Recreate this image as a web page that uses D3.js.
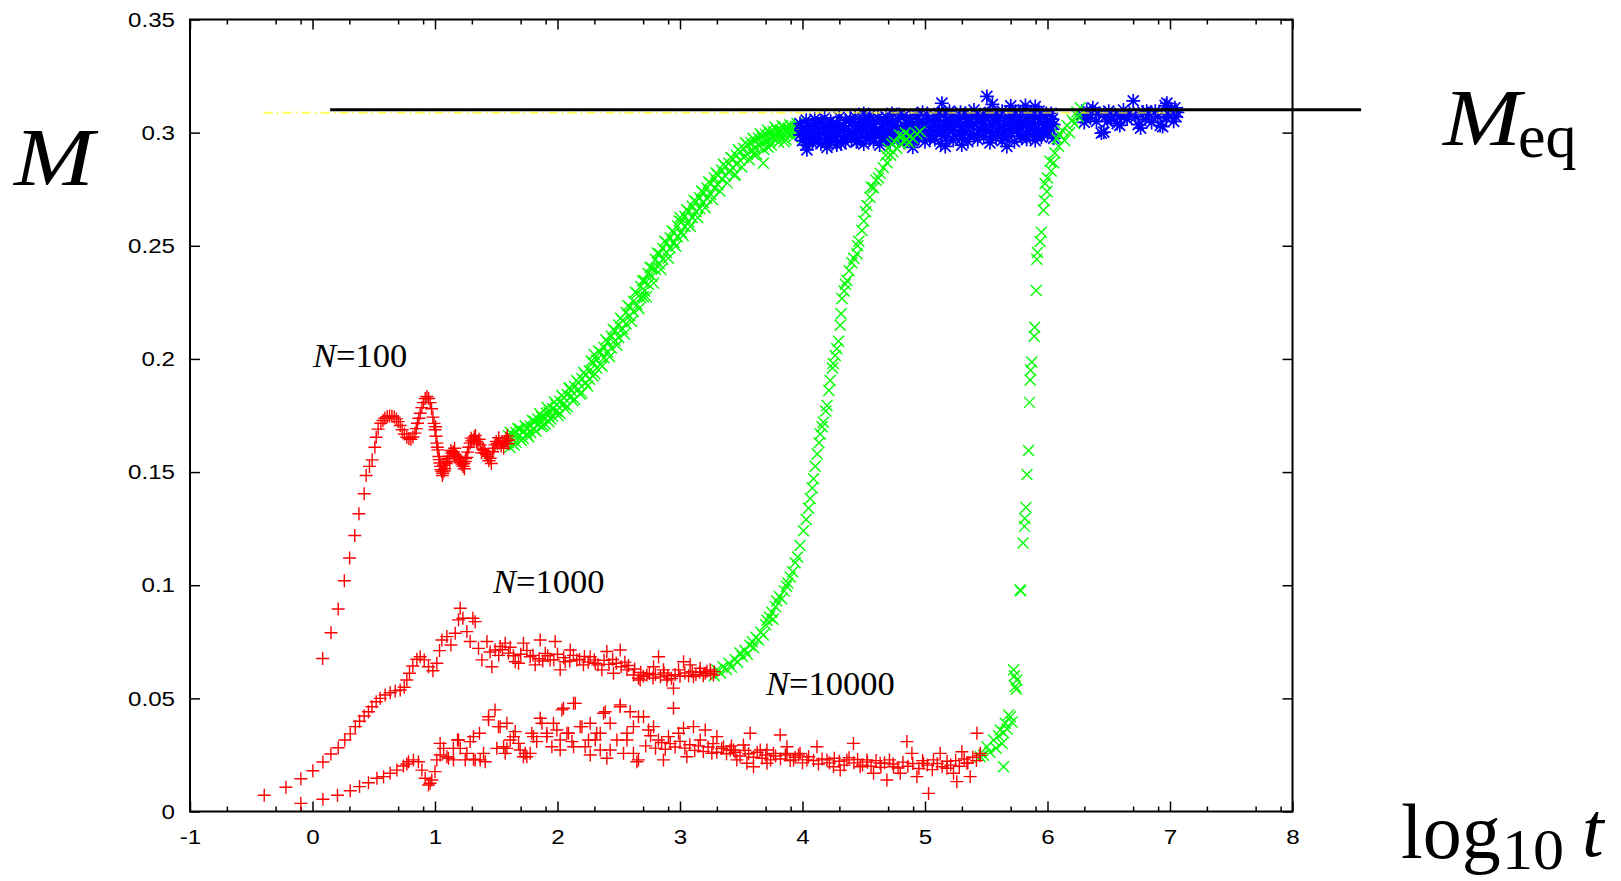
<!DOCTYPE html>
<html>
<head>
<meta charset="utf-8">
<script src="https://cdn.jsdelivr.net/npm/d3@7"></script>
<style>
  body { margin: 0; background: #fff; }
  svg { display: block; background: #fff; }
  .tick text { font-family: "Liberation Sans", Arial, sans-serif; font-size: 21px; fill: #000; }
  .tick line { stroke: #000; stroke-width: 1.5; }
  .label { font-family: "Liberation Serif", "Times New Roman", serif; fill: #000; }
</style>
</head>
<body>
<svg id="chart" width="1621" height="881"></svg>
<script>
const xTicks = [-1, 0, 1, 2, 3, 4, 5, 6, 7, 8];
const xMinorOffsets = [0.301, 0.699, 0.903];
const yTicks = [0, 0.05, 0.1, 0.15, 0.2, 0.25, 0.3, 0.35];
const yTickLabels = ["0", "0.05", "0.1", "0.15", "0.2", "0.25", "0.3", "0.35"];

const meqValue = 0.3101;
const meqRange = [0.144, 8.56];
const guideValue = 0.3088;
const guideRange = [-0.4, 7.05];

// N=100, early regime (red +)
const n100Red = [
  [0.083,0.0676],[0.151,0.079],[0.21,0.0895],[0.26,0.102],[0.303,0.112],[0.345,0.122],[0.379,0.1316],
  [0.422,0.1404],[0.438,0.1485],[0.465,0.1525],[0.487,0.1554],[0.509,0.161],[0.52,0.1654],[0.536,0.169],
  [0.558,0.1716],[0.575,0.1728],[0.59,0.1738],[0.61,0.1745],[0.629,0.1748],[0.648,0.1747],[0.667,0.1743],
  [0.685,0.1735],[0.70,0.1723],[0.716,0.1706],[0.732,0.1687],[0.75,0.1668],[0.77,0.1654],[0.787,0.1648],
  [0.803,0.1645],[0.82,0.1655],[0.836,0.1672],[0.847,0.1692],[0.857,0.1716],[0.868,0.1738],[0.879,0.176],
  [0.893,0.1785],[0.906,0.1807],[0.92,0.1825],[0.934,0.1834],[0.948,0.1825],[0.961,0.1807],[0.972,0.178],
  [0.983,0.1743],[0.992,0.1715],[1.0,0.1687],[1.005,0.1700],[1.008,0.1658],[1.015,0.1628],[1.02,0.1610],
  [1.024,0.1598],[1.032,0.1569],[1.035,0.1555],[1.04,0.154],[1.045,0.1525],[1.048,0.151],[1.056,0.1502],
  [1.06,0.1485],[1.064,0.1495],[1.07,0.153],[1.075,0.1505],[1.08,0.1515],[1.09,0.1538],[1.097,0.1547],
  [1.105,0.1560],[1.118,0.157],[1.12,0.1545],[1.13,0.1595],[1.138,0.1584],[1.15,0.1590],[1.158,0.158],
  [1.16,0.1605],[1.17,0.1575],[1.179,0.1569],[1.19,0.1560],[1.2,0.155],[1.21,0.1540],[1.22,0.1532],
  [1.23,0.1525],[1.234,0.1538],[1.24,0.1515],[1.246,0.1547],[1.25,0.1560],[1.26,0.1565],[1.266,0.1588],
  [1.275,0.1610],[1.287,0.1628],[1.295,0.1650],[1.3,0.1638],[1.314,0.1642],[1.32,0.1655],[1.33,0.1662],
  [1.34,0.1635],[1.35,0.1628],[1.36,0.1645],[1.369,0.162],[1.38,0.1585],[1.39,0.1602],[1.4,0.1595],
  [1.41,0.1584],[1.42,0.1578],[1.43,0.157],[1.44,0.1550],[1.45,0.1561],[1.46,0.1538],[1.47,0.159],
  [1.48,0.1605],[1.49,0.162],[1.5,0.1635],[1.51,0.1625],[1.52,0.1652],[1.53,0.1628],[1.54,0.1615],
  [1.55,0.1632],[1.56,0.1605],[1.57,0.1635],[1.58,0.1650],[1.585,0.1638],[1.59,0.166],[1.595,0.1625],[1.60,0.1642]
];

// N=100, rise (green x)
const n100Green = [
  [1.60,0.1630],[1.60,0.1660],[1.61,0.1610],[1.615,0.1675],[1.63,0.1645],[1.63,0.1668],[1.645,0.1620],
  [1.66,0.1632],[1.66,0.1675],[1.675,0.1692],[1.69,0.1662],[1.69,0.1690],[1.705,0.1640],[1.72,0.1648],
  [1.72,0.1680],[1.735,0.1705],[1.75,0.1695],[1.75,0.1668],[1.765,0.1655],[1.78,0.1702],[1.78,0.1675],
  [1.795,0.1728],[1.81,0.1690],[1.81,0.1725],[1.825,0.1680],[1.84,0.1712],[1.84,0.1735],[1.855,0.1758],
  [1.87,0.1700],[1.87,0.1745],[1.885,0.1705],[1.90,0.1738],[1.90,0.1712],[1.91,0.1760],[1.915,0.1785],
  [1.93,0.1722],[1.93,0.1765],[1.945,0.1735],[1.96,0.1780],[1.96,0.1748],[1.975,0.1810],[1.99,0.1770],
  [1.99,0.1798],[2.005,0.1750],[2.02,0.1760],[2.02,0.1812],[2.035,0.1838],[2.05,0.1800],[2.05,0.1830],
  [2.065,0.1780],[2.08,0.1790],[2.08,0.1842],[2.095,0.1870],[2.10,0.1872],[2.11,0.1835],[2.11,0.1860],
  [2.125,0.1815],[2.14,0.1822],[2.14,0.1878],[2.155,0.1905],[2.17,0.1865],[2.17,0.1895],[2.185,0.1845],
  [2.20,0.1850],[2.20,0.1912],[2.215,0.1940],[2.23,0.1895],[2.23,0.1930],[2.245,0.1880],[2.26,0.1910],
  [2.26,0.1948],[2.275,0.1990],[2.29,0.1925],[2.29,0.1985],[2.30,0.2020],[2.305,0.1935],[2.32,0.1960],
  [2.32,0.1995],[2.335,0.2035],[2.35,0.1975],[2.35,0.2030],[2.365,0.1968],[2.38,0.2005],[2.38,0.2050],
  [2.395,0.2085],[2.41,0.2030],[2.41,0.2075],[2.425,0.2010],[2.44,0.2048],[2.44,0.2100],[2.455,0.2130],
  [2.47,0.2082],[2.47,0.2125],[2.485,0.2060],[2.50,0.2095],[2.50,0.2150],[2.515,0.2180],[2.53,0.2132],
  [2.53,0.2170],[2.545,0.2110],[2.56,0.2155],[2.56,0.2205],[2.575,0.2235],[2.59,0.2190],[2.59,0.2230],
  [2.605,0.2165],[2.62,0.2210],[2.62,0.2255],[2.635,0.2295],[2.65,0.2240],[2.65,0.2290],[2.665,0.2222],
  [2.68,0.2270],[2.68,0.2320],[2.695,0.2345],[2.70,0.2275],[2.71,0.2300],[2.71,0.2345],[2.725,0.2275],
  [2.74,0.2330],[2.74,0.2378],[2.755,0.2405],[2.77,0.2365],[2.77,0.2402],[2.785,0.2335],[2.80,0.2395],
  [2.80,0.2440],[2.815,0.2468],[2.83,0.2420],[2.83,0.2465],[2.845,0.2395],[2.86,0.2440],[2.86,0.2488],
  [2.875,0.2520],[2.89,0.2470],[2.89,0.2515],[2.905,0.2445],[2.92,0.2490],[2.92,0.2535],[2.935,0.2565],
  [2.95,0.2515],[2.95,0.2560],[2.965,0.2498],[2.98,0.2540],[2.98,0.2588],[2.995,0.2610],[3.00,0.2625],
  [3.01,0.2560],[3.01,0.2605],[3.025,0.2545],[3.04,0.2585],[3.04,0.2630],[3.055,0.2660],[3.07,0.2605],
  [3.07,0.2652],[3.085,0.2585],[3.10,0.2625],[3.10,0.2675],[3.115,0.2700],[3.13,0.2650],[3.13,0.2695],
  [3.145,0.2625],[3.16,0.2665],[3.16,0.2712],[3.175,0.2742],[3.19,0.2690],[3.19,0.2735],[3.205,0.2668],
  [3.22,0.2710],[3.22,0.2755],[3.235,0.2782],[3.25,0.2728],[3.25,0.2775],[3.265,0.2705],[3.28,0.2755],
  [3.28,0.2800],[3.295,0.2822],[3.31,0.2770],[3.31,0.2812],[3.325,0.2742],[3.34,0.2795],[3.34,0.2835],
  [3.355,0.2860],[3.37,0.2808],[3.37,0.2850],[3.385,0.2778],[3.40,0.2825],[3.40,0.2865],[3.415,0.2890],
  [3.43,0.2845],[3.43,0.2885],[3.445,0.2812],[3.45,0.2815],[3.46,0.2860],[3.46,0.2900],[3.475,0.2925],
  [3.49,0.2878],[3.49,0.2915],[3.505,0.2848],[3.52,0.2890],[3.52,0.2930],[3.535,0.2955],[3.55,0.2905],
  [3.55,0.2945],[3.565,0.2880],[3.58,0.2920],[3.58,0.2955],[3.595,0.2975],[3.60,0.2905],[3.61,0.2930],
  [3.61,0.2968],[3.625,0.2905],[3.64,0.2945],[3.64,0.2975],[3.655,0.2995],[3.67,0.2950],[3.67,0.2985],
  [3.68,0.2865],[3.685,0.2925],[3.70,0.2960],[3.70,0.2992],[3.715,0.3012],[3.72,0.2935],[3.73,0.2968],
  [3.73,0.3000],[3.745,0.2945],[3.76,0.2975],[3.76,0.3005],[3.775,0.3025],[3.79,0.2980],[3.79,0.3010],
  [3.805,0.2958],[3.82,0.2985],[3.82,0.3012],[3.835,0.3030],[3.85,0.2990],[3.85,0.2960],[3.85,0.3018],
  [3.865,0.2968],[3.88,0.2995],[3.88,0.3020],[3.895,0.3035],[3.91,0.3000],[3.91,0.3025],[3.925,0.2978],
  [3.94,0.3002],[3.94,0.3028],[3.955,0.3040],[3.97,0.3005],[3.97,0.3030]
];

// N=1000, early regime (red +)
const n1000Red = [
  [-0.394,0.0072],[-0.217,0.0107],[-0.095,0.0145],[0.003,0.018],[0.085,0.0219],[0.15,0.0254],[0.21,0.0282],
  [0.264,0.0316],[0.308,0.0343],[0.349,0.0375],[0.384,0.0399],[0.422,0.0422],[0.457,0.0441],[0.485,0.0463],
  [0.52,0.0485],[0.553,0.05],[0.593,0.0515],[0.634,0.0525],[0.675,0.0533],[0.716,0.0537],[0.749,0.0549],
  [0.77,0.0581],[0.792,0.0611],[0.819,0.0643],[0.852,0.0673],[0.879,0.0684],[0.912,0.067],[0.947,0.064],
  [0.983,0.0622],[1.015,0.0655],[1.037,0.0711],[1.056,0.0758],[1.097,0.0773],[1.13,0.0736],[1.165,0.0788],
  [1.192,0.0847],[1.206,0.0898],[1.228,0.0854],[1.26,0.0795],[1.287,0.0751],[1.309,0.0854],[1.328,0.0839],
  [1.355,0.0721],[1.383,0.067],[1.424,0.0751],[1.45,0.0705],[1.464,0.064],[1.491,0.0714],[1.52,0.0690],
  [1.532,0.0729],[1.55,0.0715],[1.573,0.0744],[1.6,0.0700],[1.614,0.0726],[1.64,0.0688],[1.655,0.0662],
  [1.682,0.0655],[1.7,0.0695],[1.722,0.0744],[1.75,0.0712],[1.777,0.0684],[1.8,0.0690],[1.818,0.0648],
  [1.85,0.0675],[1.859,0.0758],[1.88,0.0665],[1.9,0.0699],[1.92,0.0688],[1.94,0.067],[1.97,0.0670],
  [1.981,0.0751],[2.0,0.0695],[2.022,0.0626],[2.05,0.0680],[2.063,0.0662],[2.1,0.0665],[2.104,0.0714],
  [2.13,0.0690],[2.158,0.067],[2.18,0.0672],[2.212,0.0648],[2.22,0.0685],[2.25,0.0660],[2.267,0.0684],
  [2.3,0.0670],[2.308,0.0655],[2.33,0.0648],[2.362,0.0626],[2.38,0.0668],[2.403,0.0707],[2.42,0.0650],
  [2.45,0.0672],[2.457,0.0611],[2.48,0.0655],[2.512,0.0714],[2.52,0.0640],[2.55,0.0660],[2.567,0.0626],
  [2.58,0.0645],[2.62,0.0603],[2.63,0.0630],[2.661,0.0589],[2.675,0.0581],[2.68,0.0615],[2.7,0.0598],
  [2.73,0.0603],[2.75,0.0610],[2.78,0.0590],[2.784,0.064],[2.8,0.0605],[2.825,0.0684],[2.84,0.0595],
  [2.865,0.0626],[2.87,0.0612],[2.893,0.0581],[2.9,0.0600],[2.93,0.0588],[2.947,0.0545],[2.96,0.0605],
  [2.988,0.0626],[3.0,0.0598],[3.029,0.0662],[3.04,0.0612],[3.07,0.0600],[3.083,0.0648],[3.1,0.0618],
  [3.11,0.0596],[3.13,0.0605],[3.16,0.0615],[3.165,0.0633],[3.19,0.0600],[3.206,0.0611],[3.22,0.0620],
  [3.247,0.0626],[3.25,0.0610],[3.273,0.0603],[3.28,0.0618]
];

// N=1000, rise (green x)
const n1000Green = [
  [3.28,0.0600],[3.30,0.0625],[3.33,0.0612],[3.35,0.0640],[3.38,0.0628],[3.40,0.0655],[3.42,0.0638],
  [3.45,0.0672],[3.47,0.0660],[3.49,0.0700],[3.51,0.0685],[3.53,0.0712],[3.55,0.0695],[3.57,0.0735],
  [3.59,0.0750],[3.60,0.0725],[3.62,0.0770],[3.64,0.0758],[3.66,0.0792],[3.68,0.0780],[3.70,0.0825],
  [3.71,0.0845],[3.73,0.0860],[3.75,0.0880],[3.76,0.0850],[3.78,0.0905],[3.79,0.0930],[3.81,0.0950],
  [3.83,0.0940],[3.85,0.0975],[3.87,0.0995],[3.88,0.1010],[3.90,0.1036],[3.92,0.1060],[3.94,0.1099],
  [3.96,0.1125],[3.98,0.1175],[4.008,0.1241],[4.03,0.1290],[4.05,0.1340],[4.063,0.1383],[4.08,0.1430],
  [4.09,0.1470],[4.104,0.1526],[4.12,0.1580],[4.135,0.1630],[4.145,0.1668],[4.16,0.1700],[4.17,0.1720],
  [4.19,0.1770],[4.2,0.1794],[4.215,0.1860],[4.226,0.1905],[4.245,0.1960],[4.25,0.1980],[4.267,0.2015],
  [4.28,0.2045],[4.294,0.2078],[4.308,0.2149],[4.315,0.2200],[4.322,0.2267],[4.34,0.2300],[4.35,0.2330],
  [4.363,0.2347],[4.38,0.2390],[4.403,0.2425],[4.42,0.2445],[4.444,0.2465],[4.45,0.2500],[4.46,0.2520],
  [4.485,0.2568],[4.50,0.2610],[4.515,0.2650],[4.526,0.2678],[4.55,0.2715],[4.56,0.2760],[4.58,0.2757],
  [4.60,0.2790],[4.62,0.2800],[4.634,0.2820],[4.66,0.2845],[4.68,0.2900],[4.69,0.2867],[4.70,0.2930],
  [4.72,0.2900],[4.73,0.2950],[4.74,0.2915],[4.75,0.2960],[4.77,0.2931],[4.79,0.2990],[4.80,0.2950],
  [4.82,0.2985],[4.83,0.2960],[4.84,0.3000],[4.852,0.2970],[4.87,0.2955],[4.88,0.2985],[4.90,0.2975],
  [4.934,0.2994],[4.96,0.3005]
];

// N=10000, early regime (red +)
const n10000Red = [
  [-0.095,0.0036],[0.085,0.0054],[0.204,0.0072],[0.308,0.0092],[0.384,0.011],[0.457,0.0127],[0.526,0.0147],
  [0.58,0.0154],[0.634,0.0169],[0.689,0.0183],[0.743,0.0201],[0.77,0.021],[0.784,0.022],[0.824,0.0228],
  [0.865,0.022],[0.893,0.0183],[0.92,0.0147],[0.947,0.0117],[0.96,0.0125],[0.974,0.0139],[1.0,0.0176],
  [1.015,0.0228],[1.042,0.0301],[1.042,0.025],[1.07,0.0279],[1.097,0.0242],[1.11,0.0235],[1.15,0.0279],
  [1.151,0.0228],[1.184,0.0316],[1.192,0.0316],[1.206,0.0279],[1.247,0.0228],[1.26,0.0257],[1.287,0.0309],
  [1.314,0.0331],[1.314,0.0231],[1.328,0.0228],[1.363,0.0346],[1.369,0.0228],[1.396,0.0257],[1.41,0.022],
  [1.437,0.0405],[1.437,0.0419],[1.49,0.0449],[1.505,0.0279],[1.518,0.0375],[1.532,0.0375],[1.56,0.0286],
  [1.573,0.0257],[1.587,0.039],[1.587,0.0279],[1.614,0.0316],[1.641,0.0331],[1.655,0.0353],[1.682,0.0301],
  [1.695,0.0272],[1.722,0.0242],[1.736,0.0257],[1.75,0.0242],[1.777,0.0257],[1.79,0.0346],[1.804,0.0331],
  [1.83,0.0309],[1.859,0.0412],[1.873,0.039],[1.913,0.0346],[1.913,0.0331],[1.954,0.0286],[1.967,0.039],
  [1.995,0.036],[2.022,0.0272],[2.022,0.0316],[2.036,0.0449],[2.049,0.0456],[2.077,0.0346],[2.09,0.0346],
  [2.118,0.0309],[2.131,0.0478],[2.131,0.0286],[2.145,0.0478],[2.185,0.0375],[2.2,0.0375],[2.226,0.0286],
  [2.253,0.0316],[2.267,0.039],[2.267,0.025],[2.308,0.0316],[2.32,0.0346],[2.349,0.0346],[2.349,0.0272],
  [2.376,0.0434],[2.39,0.0441],[2.403,0.0235],[2.43,0.039],[2.43,0.0272],[2.485,0.0316],[2.512,0.0463],
  [2.512,0.0471],[2.539,0.0257],[2.567,0.0346],[2.567,0.0316],[2.593,0.0441],[2.62,0.0375],[2.62,0.0257],
  [2.648,0.022],[2.661,0.0419],[2.661,0.0228],[2.702,0.0419],[2.72,0.0290],[2.743,0.036],[2.76,0.0335],
  [2.784,0.0375],[2.8,0.0280],[2.824,0.0316],[2.85,0.0305],[2.865,0.0228],[2.88,0.0275],[2.906,0.0331],
  [2.92,0.0300],[2.947,0.0456],[2.96,0.0285],[2.988,0.0346],[3.0,0.0310],[3.029,0.0368],[3.04,0.0280],
  [3.056,0.0242],[3.08,0.0295],[3.11,0.0375],[3.12,0.0270],[3.15,0.0290],[3.165,0.0316],[3.19,0.0265],
  [3.206,0.036],[3.23,0.0285],[3.26,0.0257],[3.27,0.0300],[3.3,0.0262],[3.301,0.0331],[3.34,0.0278],
  [3.355,0.0286],[3.38,0.0255],[3.41,0.0272],[3.42,0.0290],[3.437,0.0272],[3.45,0.0262],[3.464,0.0228],
  [3.49,0.0245],[3.518,0.0294],[3.53,0.0270],[3.546,0.0213],[3.56,0.0255],[3.573,0.0346],[3.6,0.0198],
  [3.6,0.0240],[3.63,0.0262],[3.655,0.0272],[3.67,0.0235],[3.7,0.0250],[3.71,0.0213],[3.71,0.0272],
  [3.74,0.0228],[3.763,0.0257],[3.78,0.0245],[3.818,0.0338],[3.82,0.0232],[3.86,0.0250],[3.873,0.0286],
  [3.873,0.0257],[3.9,0.0225],[3.927,0.0228],[3.94,0.0240],[3.967,0.025],[3.98,0.0257],[4.0,0.0215],
  [4.036,0.0228],[4.05,0.0242],[4.09,0.0225],[4.118,0.0286],[4.13,0.0210],[4.16,0.0232],[4.2,0.0228],
  [4.22,0.0215],[4.253,0.0198],[4.26,0.0235],[4.3,0.0222],[4.308,0.0183],[4.34,0.0205],[4.362,0.0228],
  [4.38,0.0238],[4.416,0.0301],[4.42,0.0215],[4.45,0.0230],[4.471,0.0198],[4.49,0.0205],[4.526,0.0228],
  [4.53,0.0218],[4.56,0.0200],[4.58,0.0169],[4.6,0.0225],[4.634,0.0213],[4.64,0.0195],[4.67,0.0215],
  [4.689,0.0139],[4.71,0.0228],[4.743,0.0198],[4.74,0.0210],[4.78,0.0192],[4.798,0.0169],[4.82,0.0218],
  [4.852,0.0309],[4.86,0.0200],[4.893,0.0257],[4.9,0.0212],[4.934,0.0154],[4.95,0.0190],[4.988,0.0213],
  [4.98,0.0225],[5.02,0.0205],[5.029,0.008],[5.06,0.0185],[5.069,0.0228],[5.1,0.0212],[5.124,0.0257],
  [5.14,0.0198],[5.179,0.0191],[5.18,0.0222],[5.21,0.0205],[5.233,0.0169],[5.25,0.0225],[5.26,0.0132],
  [5.28,0.0200],[5.301,0.0264],[5.32,0.0232],[5.342,0.0213],[5.35,0.0215],[5.369,0.0154],[5.39,0.0240],
  [5.42,0.0225],[5.424,0.0346],[5.45,0.0248],[5.451,0.0257]
];

// N=10000, rise (green x)
const n10000Green = [
  [5.451,0.0242],[5.478,0.0249],[5.505,0.0286],[5.53,0.0262],[5.559,0.0316],[5.58,0.0280],[5.6,0.0335],
  [5.614,0.036],[5.63,0.0300],[5.641,0.0198],[5.641,0.0348],[5.655,0.039],[5.67,0.0365],[5.682,0.0427],
  [5.696,0.0419],[5.71,0.0395],[5.723,0.0626],[5.73,0.0600],[5.737,0.0552],[5.745,0.0540],[5.75,0.0581],
  [5.777,0.0979],[5.78,0.0975],[5.80,0.1187],[5.812,0.1260],[5.815,0.1295],[5.824,0.1344],[5.832,0.1489],
  [5.845,0.1595],[5.853,0.1808],[5.859,0.1907],[5.862,0.1950],[5.872,0.1986],[5.891,0.2100],[5.895,0.2140],
  [5.908,0.2302],[5.913,0.2440],[5.918,0.2470],[5.94,0.2519],[5.95,0.2560],[5.967,0.2657],[5.975,0.2700],
  [5.98,0.2775],[5.995,0.2740],[6.0,0.2800],[6.02,0.2874],[6.03,0.2830],[6.05,0.2867],[6.06,0.2910],
  [6.077,0.2973],[6.09,0.2940],[6.10,0.2992],[6.12,0.3010],[6.14,0.2965],[6.16,0.3032],[6.18,0.3000],
  [6.2,0.3055],[6.22,0.3040],[6.24,0.3091],[6.25,0.3070],[6.267,0.3110]
];

// equilibrium regime (blue *)
const eqBlue = [
  [3.98,0.2990],[3.98,0.3040],[3.99,0.3010],[4.00,0.3020],[4.00,0.2965],[4.015,0.2985],[4.03,0.2945],
  [4.03,0.3055],[4.036,0.2924],[4.04,0.3030],[4.05,0.3005],[4.05,0.2975],[4.065,0.3000],[4.08,0.3035],
  [4.08,0.2955],[4.09,0.2965],[4.10,0.2990],[4.10,0.3060],[4.115,0.3040],[4.13,0.3015],[4.13,0.2970],
  [4.14,0.2990],[4.15,0.2950],[4.15,0.3045],[4.165,0.3025],[4.18,0.3000],[4.18,0.3065],[4.19,0.2955],
  [4.20,0.2975],[4.20,0.3025],[4.2,0.2935],[4.215,0.3005],[4.23,0.3050],[4.23,0.2960],[4.24,0.3035],
  [4.25,0.3010],[4.25,0.2985],[4.265,0.2970],[4.28,0.2945],[4.28,0.3040],[4.29,0.3000],[4.30,0.3025],
  [4.30,0.3068],[4.315,0.2950],[4.33,0.2980],[4.33,0.3005],[4.34,0.3030],[4.35,0.3055],[4.35,0.2958],
  [4.365,0.2985],[4.38,0.3010],[4.38,0.2990],[4.39,0.3060],[4.40,0.3045],[4.40,0.2970],[4.415,0.3000],
  [4.43,0.2995],[4.43,0.3070],[4.44,0.2960],[4.45,0.2962],[4.45,0.3030],[4.465,0.3050],[4.48,0.3015],
  [4.48,0.2985],[4.49,0.3020],[4.50,0.3060],[4.50,0.2950],[4.5,0.3085],[4.515,0.2975],[4.53,0.3000],
  [4.53,0.3035],[4.54,0.3055],[4.55,0.2975],[4.55,0.3075],[4.565,0.3010],[4.58,0.3040],[4.58,0.2960],
  [4.59,0.3000],[4.60,0.3010],[4.60,0.2990],[4.615,0.3065],[4.63,0.2945],[4.63,0.3055],[4.64,0.2975],
  [4.65,0.3025],[4.65,0.3000],[4.665,0.3040],[4.68,0.2980],[4.68,0.3070],[4.69,0.3010],[4.70,0.3045],
  [4.70,0.2965],[4.715,0.2960],[4.73,0.3010],[4.73,0.3085],[4.74,0.3050],[4.75,0.2990],[4.75,0.3030],
  [4.765,0.3015],[4.78,0.3060],[4.78,0.2970],[4.79,0.3080],[4.80,0.3020],[4.80,0.2995],[4.815,0.2985],
  [4.83,0.2958],[4.83,0.3075],[4.84,0.3030],[4.85,0.3040],[4.85,0.3005],[4.865,0.2965],[4.88,0.2985],
  [4.88,0.3065],[4.89,0.3050],[4.9,0.2935],[4.90,0.3025],[4.90,0.2965],[4.915,0.3010],[4.93,0.3080],
  [4.93,0.3000],[4.94,0.3060],[4.95,0.2975],[4.95,0.3045],[4.965,0.2990],[4.98,0.3015],[4.98,0.3090],
  [4.99,0.3025],[5.00,0.2960],[5.00,0.3035],[5.015,0.3075],[5.03,0.3060],[5.03,0.3000],[5.04,0.2975],
  [5.05,0.2985],[5.05,0.3025],[5.065,0.3045],[5.08,0.3075],[5.08,0.2970],[5.09,0.3005],[5.10,0.3010],
  [5.10,0.3050],[5.115,0.3085],[5.13,0.2950],[5.13,0.3030],[5.138,0.3130],[5.14,0.2985],[5.15,0.3085],
  [5.15,0.3005],[5.165,0.2939],[5.165,0.3035],[5.18,0.2980],[5.18,0.3055],[5.19,0.3020],[5.20,0.3030],
  [5.20,0.3095],[5.215,0.3070],[5.23,0.2965],[5.23,0.3015],[5.24,0.2985],[5.25,0.3070],[5.25,0.3040],
  [5.265,0.3050],[5.28,0.2995],[5.28,0.3060],[5.29,0.3090],[5.3,0.2945],[5.30,0.3025],[5.30,0.2975],
  [5.315,0.3010],[5.33,0.3085],[5.33,0.3005],[5.34,0.3060],[5.35,0.2960],[5.35,0.3045],[5.365,0.2990],
  [5.38,0.3030],[5.38,0.3075],[5.39,0.3040],[5.40,0.2990],[5.40,0.3100],[5.415,0.3080],[5.43,0.3050],
  [5.43,0.2970],[5.44,0.3000],[5.45,0.3015],[5.45,0.3080],[5.465,0.3060],[5.48,0.2980],[5.48,0.3040],
  [5.49,0.3025],[5.50,0.3065],[5.50,0.3010],[5.505,0.3160],[5.515,0.3085],[5.53,0.2955],[5.53,0.3090],
  [5.54,0.2985],[5.55,0.3030],[5.55,0.3000],[5.55,0.3125],[5.565,0.3055],[5.58,0.3075],[5.58,0.2975],
  [5.59,0.3010],[5.60,0.3020],[5.60,0.3050],[5.615,0.3075],[5.63,0.2965],[5.63,0.3095],[5.64,0.3030],
  [5.65,0.3040],[5.65,0.3005],[5.665,0.2980],[5.668,0.2939],[5.68,0.2985],[5.68,0.3070],[5.69,0.3060],
  [5.70,0.3050],[5.70,0.3020],[5.7,0.3118],[5.715,0.3010],[5.73,0.2960],[5.73,0.3085],[5.74,0.3095],
  [5.75,0.3010],[5.75,0.3045],[5.765,0.3030],[5.78,0.3070],[5.78,0.2985],[5.79,0.2975],[5.80,0.3030],
  [5.80,0.3100],[5.815,0.3050],[5.82,0.3120],[5.83,0.2970],[5.83,0.3055],[5.84,0.3010],[5.85,0.3020],
  [5.85,0.3080],[5.865,0.3090],[5.88,0.2990],[5.88,0.3045],[5.89,0.3020],[5.90,0.3065],[5.90,0.2965],
  [5.9,0.3115],[5.915,0.2985],[5.93,0.3010],[5.93,0.3095],[5.94,0.3060],[5.95,0.3040],[5.95,0.2980],
  [5.965,0.3005],[5.98,0.3075],[5.98,0.3020],[5.99,0.3085],[6.00,0.2990],[6.00,0.3050],[6.015,0.3030],
  [6.03,0.3085],[6.03,0.3015],[6.04,0.3060],[6.05,0.3035],[6.05,0.2975],
  [6.28,0.3080],[6.30,0.3045],[6.31,0.3065],[6.32,0.3100],[6.35,0.3065],[6.37,0.3110],[6.39,0.3090],
  [6.40,0.3050],[6.42,0.3085],[6.44,0.2998],[6.46,0.3002],[6.47,0.3070],[6.49,0.3050],[6.50,0.3095],
  [6.52,0.3060],[6.55,0.3080],[6.57,0.3040],[6.59,0.3032],[6.60,0.3075],[6.62,0.3100],[6.63,0.3070],
  [6.65,0.3060],[6.67,0.3085],[6.70,0.3140],[6.72,0.3070],[6.74,0.3035],[6.76,0.3020],[6.78,0.3090],
  [6.80,0.3060],[6.81,0.3095],[6.83,0.3080],[6.85,0.3045],[6.88,0.3095],[6.90,0.3070],[6.92,0.3032],
  [6.94,0.3027],[6.96,0.3120],[6.97,0.3065],[6.975,0.3130],[6.99,0.3080],[7.01,0.3105],[7.03,0.3050],
  [7.04,0.3110],[7.05,0.3070],[7.06,0.3090]
];

const plusShape = "M-6.5,0H6.5M0,-6.5V6.5";
const crossShape = "M-5.5,-5.5L5.5,5.5M-5.5,5.5L5.5,-5.5";
const starShape = "M-7,0H7M0,-7V7M-5.5,-5.5L5.5,5.5M-5.5,5.5L5.5,-5.5";

const svg = d3.select('#chart');
const margin = { top: 19.5, right: 328.5, bottom: 69.5, left: 190 };
const width = 1621 - margin.left - margin.right;
const height = 881 - margin.top - margin.bottom;

const xScale = d3.scaleLinear().domain([-1, 8]).range([0, width]);
const yScale = d3.scaleLinear().domain([0, 0.35]).range([height, 0]);

const g = svg.append('g').attr('transform', `translate(${margin.left},${margin.top})`);

// minor x ticks at 2, 5, 8 inside each decade
const xMinor = [];
xTicks.slice(0, -1).forEach(d => xMinorOffsets.forEach(o => xMinor.push(d + o)));

const labelStretch = 1.15;

function drawAxes() {
  const bottom = g.append('g').attr('transform', `translate(0,${height})`)
    .call(d3.axisBottom(xScale).tickValues(xTicks).tickSizeInner(-10).tickSizeOuter(0)
      .tickPadding(18).tickFormat(d => String(d)));
  bottom.selectAll('text').attr('transform', `scale(${labelStretch},1)`);

  g.append('g').attr('transform', `translate(0,${height})`)
    .call(d3.axisBottom(xScale).tickValues(xMinor).tickSizeInner(-5).tickSizeOuter(0).tickFormat(''));

  g.append('g')
    .call(d3.axisTop(xScale).tickValues(xTicks).tickSizeInner(-10).tickSizeOuter(0).tickFormat(''));
  g.append('g')
    .call(d3.axisTop(xScale).tickValues(xMinor).tickSizeInner(-5).tickSizeOuter(0).tickFormat(''));

  const left = g.append('g')
    .call(d3.axisLeft(yScale).tickValues(yTicks).tickSizeInner(-10).tickSizeOuter(0)
      .tickPadding(15).tickFormat((d, i) => yTickLabels[i]));
  left.selectAll('text').attr('x', -15 / labelStretch).attr('transform', `scale(${labelStretch},1)`);

  g.append('g').attr('transform', `translate(${width},0)`)
    .call(d3.axisRight(yScale).tickValues(yTicks).tickSizeInner(-10).tickSizeOuter(0).tickFormat(''));

  g.selectAll('.domain').remove();

  g.append('rect')
    .attr('width', width).attr('height', height)
    .attr('fill', 'none').attr('stroke', '#000').attr('stroke-width', 2);
}

function drawMarks(data, shape, color, lineWidth) {
  g.append('g').selectAll('path').data(data).join('path')
    .attr('d', shape)
    .attr('transform', d => `translate(${xScale(d[0])},${yScale(d[1])})`)
    .attr('fill', 'none')
    .attr('stroke', color)
    .attr('stroke-width', lineWidth);
}

drawAxes();

drawMarks(n100Green, crossShape, '#00ff00', 1.4);
drawMarks(eqBlue, starShape, '#0000ff', 1.7);
drawMarks(n1000Green, crossShape, '#00ff00', 1.4);
drawMarks(n10000Green, crossShape, '#00ff00', 1.4);
drawMarks(n100Red, plusShape, '#ff0000', 1.4);
drawMarks(n1000Red, plusShape, '#ff0000', 1.4);
drawMarks(n10000Red, plusShape, '#ff0000', 1.4);

// dash-dot guide and equilibrium line
g.append('line')
  .attr('x1', xScale(guideRange[0])).attr('x2', xScale(guideRange[1]))
  .attr('y1', yScale(guideValue)).attr('y2', yScale(guideValue))
  .attr('stroke', '#ffff00').attr('stroke-opacity', 0.65).attr('stroke-width', 2)
  .attr('stroke-dasharray', '9,4,2,4');

g.append('line')
  .attr('x1', xScale(meqRange[0])).attr('x2', xScale(meqRange[1]))
  .attr('y1', yScale(meqValue)).attr('y2', yScale(meqValue))
  .attr('stroke', '#000').attr('stroke-width', 3);

// axis and curve labels
svg.append('text').attr('class', 'label')
  .attr('x', 14).attr('y', 185)
  .attr('font-size', 82).attr('font-style', 'italic')
  .attr('textLength', 80).attr('lengthAdjust', 'spacingAndGlyphs').text('M');

svg.append('text').attr('class', 'label')
  .attr('x', 1443).attr('y', 145)
  .attr('font-size', 80).attr('font-style', 'italic')
  .attr('textLength', 78).attr('lengthAdjust', 'spacingAndGlyphs').text('M');
svg.append('text').attr('class', 'label')
  .attr('x', 1518).attr('y', 157)
  .attr('font-size', 62).text('eq');

svg.append('text').attr('class', 'label')
  .attr('x', 1401).attr('y', 858)
  .attr('font-size', 78).text('log');
svg.append('text').attr('class', 'label')
  .attr('x', 1502).attr('y', 869)
  .attr('font-size', 56)
  .attr('textLength', 62).attr('lengthAdjust', 'spacingAndGlyphs').text('10');
svg.append('text').attr('class', 'label')
  .attr('x', 1582).attr('y', 856)
  .attr('font-size', 78).attr('font-style', 'italic').text('t');

const curveLabels = [
  { n: '100', x: 313, y: 367 },
  { n: '1000', x: 493, y: 593 },
  { n: '10000', x: 766, y: 695 }
];

curveLabels.forEach(d => {
  const t = svg.append('text').attr('class', 'label')
    .attr('x', d.x).attr('y', d.y).attr('font-size', 34.5);
  t.append('tspan').attr('font-style', 'italic').text('N');
  t.append('tspan').text('=' + d.n);
});
</script>
</body>
</html>
